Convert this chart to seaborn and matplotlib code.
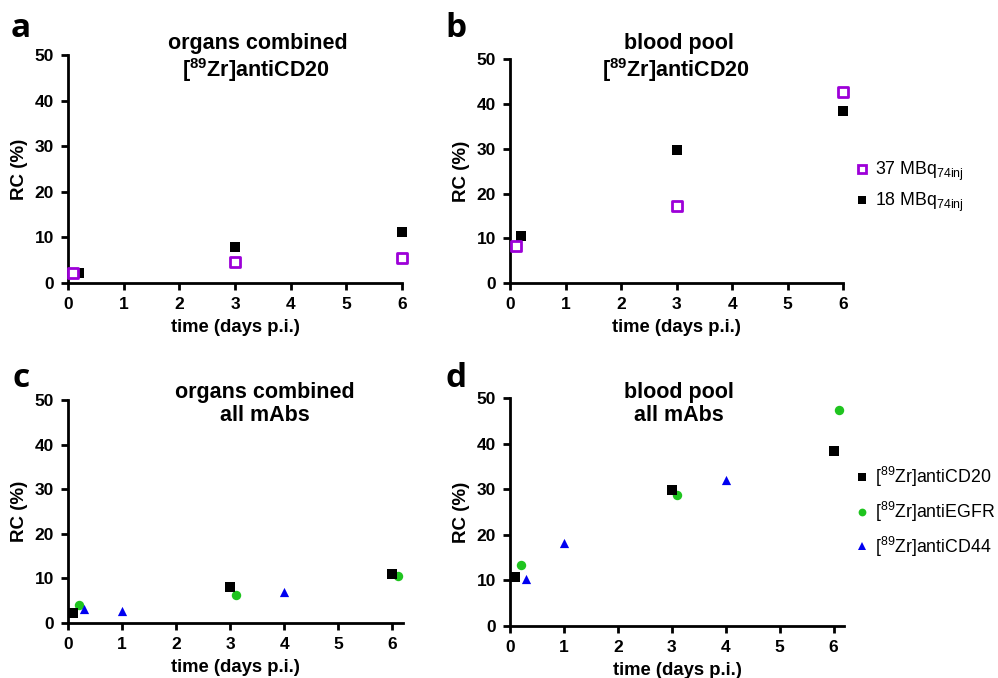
import numpy as np
import pandas as pd
import seaborn as sns
import matplotlib.pyplot as plt
from matplotlib.lines import Line2D

sns.set_style('ticks')
plt.rcParams['font.family'] = ['Liberation Sans', 'DejaVu Sans']
plt.rcParams['mathtext.fontset'] = 'custom'
plt.rcParams['mathtext.rm'] = 'Liberation Sans'
plt.rcParams['mathtext.bf'] = 'Liberation Sans:bold'
for k in ['text.color', 'axes.labelcolor', 'xtick.color', 'ytick.color', 'axes.edgecolor']:
    plt.rcParams[k] = 'black'

# panel a/b: [89Zr]antiCD20 at two injected activities
t_37 = [0.1, 3, 6]
t_18 = [0.2, 3, 6]
organs_37 = [2.2, 4.6, 5.4]
organs_18 = [2.3, 8.0, 11.1]
blood_37 = [8.2, 17.1, 42.7]
blood_18 = [10.5, 29.8, 38.4]

# panel c/d: all mAbs
t_cd20 = [0.1, 3, 6]
t_egfr = [0.2, 3.1, 6.1]
t_cd44 = [0.3, 1, 4]
organs_cd20 = [2.3, 8.0, 11.0]
organs_egfr = [4.0, 6.3, 10.6]
organs_cd44 = [3.1, 2.7, 6.9]
blood_cd20 = [10.6, 29.8, 38.4]
blood_egfr = [13.4, 28.7, 47.3]
blood_cd44 = [10.3, 18.1, 32.0]

PURPLE = '#9d00d8'
GREEN = '#1fc41f'
BLUE = '#0000f0'

W, H = 998, 678
fig = plt.figure(figsize=(W / 100, H / 100), dpi=100)
axA = fig.add_axes([0.068, 0.5826, 0.335, 0.336])
axB = fig.add_axes([0.511, 0.5826, 0.334, 0.330])
axC = fig.add_axes([0.068, 0.081, 0.336, 0.329])
axD = fig.add_axes([0.511, 0.077, 0.335, 0.336])


def draw(ax, x, y, **kw):
    df = pd.DataFrame({'t': x, 'rc': y})
    sns.scatterplot(data=df, x='t', y='rc', ax=ax, legend=False, **kw)


def cd20_37(ax, x, y):
    draw(ax, x, y, marker='s', s=52, facecolor='white', edgecolor=PURPLE, linewidth=2.0, zorder=4)


def cd20_18(ax, x, y, z=3):
    draw(ax, x, y, marker='s', s=44, color='black', edgecolor='black', linewidth=0, zorder=z)


draw_egfr = lambda ax, x, y: draw(ax, x, y, marker='o', s=46, color=GREEN, linewidth=0, zorder=2)
draw_cd44 = lambda ax, x, y: draw(ax, x, y, marker='^', s=44, color=BLUE, linewidth=0, zorder=2)

cd20_18(axA, t_18, organs_18)
cd20_37(axA, t_37, organs_37)
cd20_18(axB, t_18, blood_18)
cd20_37(axB, t_37, blood_37)

cd20_18(axC, t_cd20, organs_cd20)
draw_egfr(axC, t_egfr, organs_egfr)
draw_cd44(axC, t_cd44, organs_cd44)
cd20_18(axD, t_cd20, blood_cd20)
draw_egfr(axD, t_egfr, blood_egfr)
draw_cd44(axD, t_cd44, blood_cd44)

for ax, xmax in [(axA, 6), (axB, 6), (axC, 6.2), (axD, 6.2)]:
    ax.set_xlim(0, xmax)
    ax.set_ylim(0, 50)
    ax.set_xticks(range(7))
    ax.set_yticks(range(0, 51, 10))
    for sp in ['top', 'right']:
        ax.spines[sp].set_visible(False)
    for sp in ['left', 'bottom']:
        ax.spines[sp].set_linewidth(2)
    ax.tick_params(width=2, length=5, labelsize=12.5, pad=5)
    for lab in ax.get_xticklabels() + ax.get_yticklabels():
        lab.set_fontweight('bold')
    ax.set_xlabel('time (days p.i.)', fontsize=13.3, fontweight='bold', labelpad=5)
    ax.set_ylabel('RC (%)', fontsize=13.5, fontweight='bold', labelpad=5)
    for c in ax.collections:
        c.set_clip_on(False)


def ftxt(x, y, s, **kw):
    fig.text(x / W, 1 - y / H, s, **kw)


# titles (two lines each, placed by baseline)
tkw = dict(ha='center', va='baseline', fontsize=15.5, fontweight='bold')
zr = r'[$^{\mathbf{89}}$Zr]antiCD20'
ftxt(258, 49, 'organs combined', **tkw)
ftxt(256, 77, zr, **tkw)
ftxt(679, 49, 'blood pool', **tkw)
ftxt(676, 77, zr, **tkw)
ftxt(265, 398, 'organs combined', **tkw)
ftxt(265, 421, 'all mAbs', **tkw)
ftxt(679, 398, 'blood pool', **tkw)
ftxt(679, 421, 'all mAbs', **tkw)

# panel letters
lkw = dict(ha='center', va='baseline', fontsize=24, fontweight='bold', family='Open Sans')
ftxt(21, 37, 'a', **lkw)
ftxt(456, 37, 'b', **lkw)
ftxt(21, 387, 'c', **lkw)
ftxt(456, 387, 'd', **lkw)

# legends
lgkw = dict(loc='upper left', frameon=False, fontsize=12.8, handlelength=0.8,
            handletextpad=0.3, borderpad=0, borderaxespad=0)
hb = [Line2D([], [], ls='', marker='s', ms=6.2, mfc='white', mec=PURPLE, mew=2.0),
      Line2D([], [], ls='', marker='s', ms=5.6, mfc='black', mec='black', mew=0)]
lb = [r'37 MBq$_{\mathregular{74inj}}$', r'18 MBq$_{\mathregular{74inj}}$']
fig.legend(hb, lb, bbox_to_anchor=(855 / W, 1 - 160 / H), labelspacing=0.45, **lgkw)

hd = [Line2D([], [], ls='', marker='s', ms=5.2, mfc='black', mec='black', mew=0),
      Line2D([], [], ls='', marker='o', ms=5.6, mfc=GREEN, mec=GREEN, mew=0),
      Line2D([], [], ls='', marker='^', ms=5.4, mfc=BLUE, mec=BLUE, mew=0)]
ld = [r'[$^{\mathregular{89}}$Zr]antiCD20', r'[$^{\mathregular{89}}$Zr]antiEGFR',
      r'[$^{\mathregular{89}}$Zr]antiCD44']
fig.legend(hd, ld, bbox_to_anchor=(855 / W, 1 - 465 / H), labelspacing=0.6, **lgkw)

fig.savefig('out.png', dpi=100)
